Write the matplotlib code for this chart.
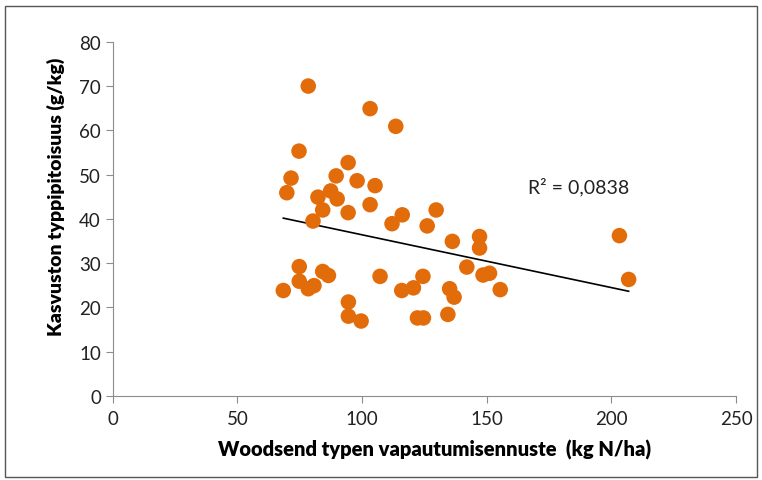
import numpy as np
import matplotlib.pyplot as plt
from matplotlib.patches import Rectangle

# Woodsend-ennuste (kg N/ha) ja kasvuston typpipitoisuus (g/kg)
woodsend = [78.4, 103.2, 113.5, 74.7, 94.4, 71.5, 89.6, 98.0, 105.2, 69.8,
            87.4, 82.3, 90.0, 103.2, 84.2, 94.4, 116.1, 80.3, 112.0, 126.1,
            129.7,
            136.2, 147.1, 147.1, 142.0, 148.5, 151.1, 155.4, 135.1, 136.9,
            203.2, 206.9,
            74.8, 74.8, 68.4, 78.4, 80.7, 84.2, 86.5, 107.2, 115.9, 120.6,
            124.4, 94.5, 94.5, 99.6, 122.2, 124.6, 134.4]
typpi = [70.0, 64.9, 60.9, 55.3, 52.7, 49.2, 49.7, 48.6, 47.5, 45.9,
         46.3, 44.9, 44.5, 43.2, 42.0, 41.4, 40.9, 39.5, 38.9, 38.4,
         42.0,
         34.9, 36.0, 33.4, 29.1, 27.3, 27.7, 24.0, 24.2, 22.3,
         36.2, 26.3,
         29.2, 25.9, 23.8, 24.2, 24.9, 28.1, 27.2, 27.0, 23.8, 24.4,
         27.0, 21.2, 18.0, 16.9, 17.6, 17.6, 18.4]
r2_text = 'R² = 0,0838'

plt.rcParams['font.family'] = ['Lato', 'DejaVu Sans']

fig = plt.figure(figsize=(7.62, 4.81), dpi=100)
ax = fig.add_axes([0.148, 0.175, 0.818, 0.736])

x = np.array(woodsend)
y = np.array(typpi)
ax.scatter(x, y, s=125, color='#E36C0A', edgecolors='none', zorder=3)

# lineaarinen trendiviiva
k, b = np.polyfit(x, y, 1)
xs = np.array([x.min(), x.max()])
ax.plot(xs, k * xs + b, color='black', lw=1.2, zorder=2)

ax.text(166.5, 47.5, r2_text, fontsize=14, va='center', ha='left',
        color='#222222')

ax.set_xlim(0, 250)
ax.set_ylim(0, 80)
ax.set_xticks(range(0, 251, 50))
ax.set_yticks(range(0, 81, 10))
for s in ['top', 'right']:
    ax.spines[s].set_visible(False)
for s in ['left', 'bottom']:
    ax.spines[s].set_color('#8c8c8c')
ax.tick_params(colors='#8c8c8c', labelcolor='#222222', labelsize=13.5,
               direction='out', length=5)
ax.tick_params(axis='x', pad=5)

ax.set_xlabel('Woodsend typen vapautumisennuste  (kg N/ha)',
              fontsize=14.5, fontweight='heavy', labelpad=9)
ax.xaxis.label.set_x(0.517)
ax.set_ylabel('Kasvuston typpipitoisuus (g/kg)',
              fontsize=14, fontweight='heavy', labelpad=10)
ax.yaxis.label.set_y(0.564)

fig.patches.append(Rectangle((0.007, 0.006), 0.986, 0.98,
                             transform=fig.transFigure, fill=False,
                             edgecolor='#555555', lw=1))

plt.savefig('out.png', dpi=100)
